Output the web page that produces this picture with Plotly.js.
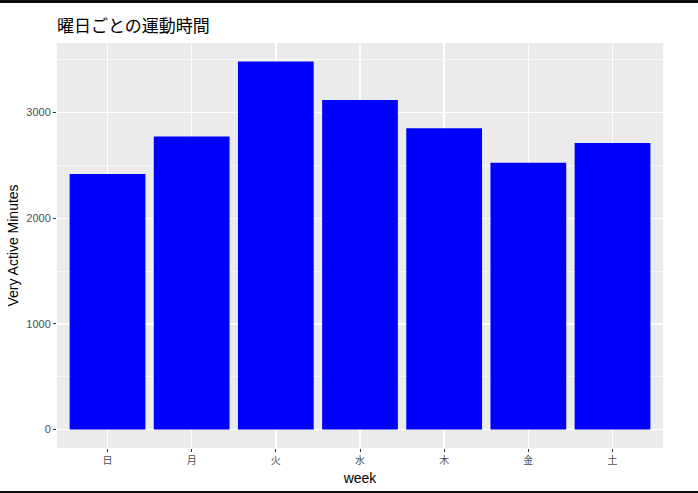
<!DOCTYPE html>
<html>
<head>
<meta charset="utf-8">
<script src="https://cdn.plot.ly/plotly-3.0.1.min.js"></script>
<style>
  body { margin: 0; padding: 0; background: #fff; }
  #wrap { position: relative; width: 698px; height: 493px; }
  .bar-line { position: absolute; left: 0; width: 698px; background: #0d0d0d; }
</style>
</head>
<body>
<div id="wrap">
  <div id="chart"></div>
  <div class="bar-line" style="top:0;height:3px"></div>
  <div class="bar-line" style="top:491px;height:2px"></div>
</div>
<script>
// weekday labels and very active minutes per weekday
const days = ['日', '月', '火', '水', '木', '金', '土'];
const activeMinutes = [2418, 2773, 3484, 3119, 2852, 2524, 2713];
const yTicks = [0, 1000, 2000, 3000];

const ymax = Math.max(...activeMinutes);
const pad = ymax * 0.05; // ggplot-ish expansion

const data = [{
  type: 'bar',
  x: days,
  y: activeMinutes,
  width: 0.9,
  marker: { color: '#0000FF', line: { width: 0 } },
  hoverinfo: 'x+y'
}];

const layout = {
  width: 698,
  height: 493,
  margin: { l: 57, r: 35, t: 43, b: 45 },
  paper_bgcolor: '#FFFFFF',
  plot_bgcolor: '#EBEBEB',
  showlegend: false,
  font: { family: 'Liberation Sans, Arial, sans-serif', color: '#000' },
  title: {
    text: '曜日ごとの運動時間',
    font: { family: 'Noto Sans CJK JP, sans-serif', size: 17, color: '#000' },
    x: 0, xref: 'paper', xanchor: 'left',
    y: 1 - 26 / 493, yref: 'container', yanchor: 'middle'
  },
  xaxis: {
    type: 'category',
    range: [-0.6, days.length - 0.4],
    showgrid: true,
    gridcolor: '#FFFFFF',
    gridwidth: 1.4,
    zeroline: false,
    showline: false,
    ticks: 'outside',
    ticklen: 3,
    tickwidth: 1,
    tickcolor: '#333333',
    tickfont: { family: 'Noto Sans CJK JP, sans-serif', size: 10, color: '#4D4D4D' },
    title: { text: 'week', font: { size: 14, color: '#000' }, standoff: 7 },
    automargin: false,
    fixedrange: true
  },
  yaxis: {
    range: [-pad, ymax + pad],
    tickvals: yTicks,
    ticktext: yTicks.map(String),
    showgrid: true,
    gridcolor: '#FFFFFF',
    gridwidth: 1.4,
    minor: { dtick: 500, tick0: 0, showgrid: true, gridcolor: '#FFFFFF', gridwidth: 0.6, ticks: '' },
    zeroline: false,
    showline: false,
    ticks: 'outside',
    ticklen: 3,
    tickwidth: 1,
    tickcolor: '#333333',
    tickfont: { size: 11, color: '#4D4D4D' },
    title: { text: 'Very Active Minutes', font: { size: 14, color: '#000' }, standoff: 4 },
    automargin: false,
    fixedrange: true
  }
};

Plotly.newPlot('chart', data, layout, { displayModeBar: false, staticPlot: true });
</script>
</body>
</html>
